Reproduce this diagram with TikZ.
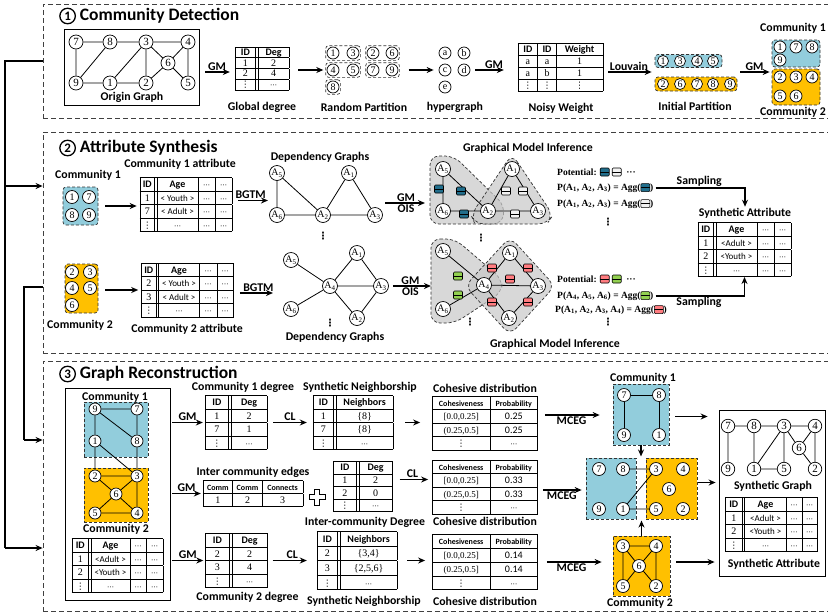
\documentclass[tikz,border=0pt]{standalone}
\usepackage{fontspec}
\setmainfont{Liberation Serif}
\setsansfont{Carlito}
\newfontfamily\dvfont{DejaVu Sans}
\usepackage{array}
\usetikzlibrary{arrows.meta,positioning,calc,fit}

\definecolor{cblue}{RGB}{146,205,220}
\definecolor{corange}{RGB}{255,192,0}
\definecolor{fblue}{RGB}{33,110,140}
\definecolor{fwhite}{RGB}{242,242,242}
\definecolor{fgreen}{RGB}{146,208,80}
\definecolor{fred}{RGB}{255,124,128}

\newcolumntype{C}[1]{w{c}{#1}}
\newcommand{\hd}[1]{\textsf{\textbf{#1}}}
\newcommand{\hs}[1]{\textsf{\textbf{\fontsize{8}{8}\selectfont #1}}}
\newcommand{\ag}[1]{\textsf{\fontsize{9}{9}\selectfont #1}}
\newcommand{\vd}{{\dvfont\fontsize{9}{9}\selectfont ⋮}}
\newcommand{\cd}{{\dvfont\fontsize{7}{7}\selectfont ⋯}}
\newcommand{\tabsize}[3]{\fontsize{#1}{#2}\selectfont\setlength{\tabcolsep}{1pt}\setlength{\arrayrulewidth}{0.6pt}\setlength{\extrarowheight}{#3pt}}
\newcommand{\fac}[1]{\tikz[baseline=1pt]{\draw[fill=#1, line width=0.6pt, rounded corners=1pt] (0pt,0pt) rectangle (9pt,8pt); \draw[line width=0.6pt] (0pt,4pt) -- (9pt,4pt);}}
\newcommand{\cnum}[1]{\tikz[baseline=(cn#1.base)]\node[circle, draw, line width=1.3pt, inner sep=0pt, minimum size=15.5pt, font=\sffamily\bfseries\fontsize{13}{13}\selectfont] (cn#1) {#1};}

\begin{document}
\begin{tikzpicture}[x=1pt, y=-1pt,
  secbox/.style={draw=black!75, dash pattern=on 5pt off 3pt, line width=0.8pt, inner sep=0pt},
  ttl/.style={font=\sffamily\bfseries\fontsize{17.5}{20}\selectfont, anchor=west, inner sep=0pt},
  lbl/.style={font=\sffamily\bfseries\fontsize{11.8}{13}\selectfont, inner sep=1pt},
  gnode/.style={circle, draw, fill=white, line width=0.7pt, inner sep=0pt, minimum size=14pt, font=\fontsize{11}{11}\selectfont},
  snode/.style={circle, draw, fill=white, line width=0.7pt, inner sep=0pt, minimum size=12pt, font=\fontsize{10}{10}\selectfont},
  anode/.style={circle, draw, fill=white, line width=0.7pt, inner sep=0pt, minimum size=15pt, font=\fontsize{10}{10}\selectfont},
  grp/.style={draw=black!80, dash pattern=on 3pt off 2pt, line width=0.7pt, rounded corners=3pt, inner sep=1pt},
  cbox/.style={draw=black!80, dash pattern=on 3pt off 2pt, line width=0.7pt, inner sep=0pt},
  tab/.style={inner sep=0pt, outer sep=0pt},
  gline/.style={line width=0.8pt},
  arr/.style={-{Stealth[length=7pt, width=6pt]}, line width=1.3pt},
  region/.style={draw=black!80, dash pattern=on 3pt off 2pt, line width=0.7pt, fill=black!22, fill opacity=0.7, rounded corners=9pt},
  pot/.style={font=\bfseries\fontsize{9.5}{11}\selectfont, anchor=west, inner sep=0pt},
  fac/.style={inner sep=0pt},
  dots/.style={inner sep=0pt, font=\dvfont\bfseries\fontsize{10}{10}\selectfont}
]
\useasboundingbox (0,0) rectangle (828,614);

\node[secbox, minimum width=800pt, minimum height=114pt] (sec1) at (443,61) {};
\node[secbox, minimum width=800pt, minimum height=221pt] (sec2) at (443,242.5) {};
\node[secbox, minimum width=800pt, minimum height=250pt] (sec3) at (443,486) {};
\node[ttl] (ttl1) at (59,16) {\cnum{1} Community Detection};
\node[ttl] (ttl2) at (59,148) {\cnum{2} Attribute Synthesis};
\node[ttl] (ttl3) at (59,374) {\cnum{3} Graph Reconstruction};

\coordinate (busa) at (5,61);
\coordinate (busb) at (5,186);
\coordinate (busc) at (5,548);
\coordinate (busd) at (24,287);
\coordinate (buse) at (24,440);
\draw[line width=1.3pt] (sec1.west) -- (busa) -- (busc);
\draw[arr] (busb) -- (busb -| sec2.west);
\draw[arr] (busc) -- (busc -| sec3.west);
\draw[line width=1.3pt] (busd -| sec2.west) -- (busd) -- (buse);
\draw[arr] (buse) -- (buse -| sec3.west);

% community detection
\node[draw, line width=0.8pt, minimum width=135pt, minimum height=76pt, inner sep=0pt] (ograph) at (131.5,67) {};
\node[gnode] (o7) at (76,42) {7};
\node[gnode] (o8) at (110,42) {8};
\node[gnode] (o3) at (146,42) {3};
\node[gnode] (o4) at (188,42) {4};
\node[gnode] (o6) at (168,63) {6};
\node[gnode] (o9) at (76,83) {9};
\node[gnode] (o1) at (110,83) {1};
\node[gnode] (o2) at (146,83) {2};
\node[gnode] (o5) at (188,83) {5};
\draw[gline] (o7) -- (o8) (o8) -- (o3) (o3) -- (o4) (o7) -- (o9) (o9) -- (o8) (o9) -- (o1) (o1) -- (o3) (o1) -- (o2) (o3) -- (o2) (o3) -- (o6) (o4) -- (o6) (o6) -- (o2) (o6) -- (o5) (o4) -- (o5);
\node[lbl] (ogl) at (132,97) {Origin Graph};

\node[tab] (gdeg) at (262,68.5) {\tabsize{10}{7}{3.2}\begin{tabular}{|C{18pt}||C{28pt}|}\hline
\hd{ID} & \hd{Deg}\\\hline
1 & 2\\\hline
2 & 4\\\hline
\vd & \cd\\\hline
\end{tabular}};
\node[lbl] (gdegl) at (262,107) {Global degree};
\draw[arr, shorten <=6pt, shorten >=5pt] ([yshift=-5pt]ograph.east) -- ([yshift=-5pt]ograph.east -| gdeg.west) node[midway, above, lbl] (gm1) {GM};

\node[snode] (r1) at (333,53) {1};
\node[snode] (r3) at (353,53) {3};
\node[snode] (r2) at (373,53) {2};
\node[snode] (r6) at (392,53) {6};
\node[snode] (r4) at (333,70) {4};
\node[snode] (r5) at (353,70) {5};
\node[snode] (r7) at (373,70) {7};
\node[snode] (r9) at (392,70) {9};
\node[snode] (r8) at (333,87) {8};
\node[grp, fit=(r1)(r3)] (g13) {};
\node[grp, fit=(r4)(r5)] (g45) {};
\node[grp, fit=(r2)(r6)] (g26) {};
\node[grp, fit=(r7)(r9)] (g79) {};
\node[grp, fit=(r8)] (g8) {};
\node[lbl] (rpl) at (364,107) {Random Partition};
\draw[arr, shorten <=9pt, shorten >=2pt] (gdeg.east |- g45) -- (g45.west);

\node[snode] (ha) at (445,53) {a};
\node[snode] (hb) at (464,53) {b};
\node[snode] (hc) at (445,70) {c};
\node[snode] (hd) at (464,70) {d};
\node[snode] (he) at (445,87) {e};
\node[lbl] (hgl) at (455,107) {hypergraph};
\draw[arr, shorten <=9pt, shorten >=5pt] (g79.east) -- (hc.west);

\node[tab] (nw) at (560.5,67) {\tabsize{10}{8}{3.5}\begin{tabular}{|C{17pt}|C{16pt}|C{44pt}|}\hline
\hd{ID} & \hd{ID} & \hd{Weight}\\\hline
a & a & 1\\\hline
a & b & 1\\\hline
\vd & \vd & \vd\\\hline
\end{tabular}};
\node[lbl] (nwl) at (561,108) {Noisy Weight};
\draw[arr, shorten <=5pt, shorten >=14pt] (hd.east) -- (hd.east -| nw.west) node[midway, above, lbl] (gm2) {GM};

\node[grp, fill=cblue, minimum width=67pt, minimum height=13pt] (ip1) at (688.5,61) {};
\node[grp, fill=corange, minimum width=82pt, minimum height=14pt] (ip2) at (696,84) {};
\node[snode, minimum size=11pt] (i1) at (663,61) {1};
\node[snode, minimum size=11pt] (i3) at (680,61) {3};
\node[snode, minimum size=11pt] (i4) at (697,61) {4};
\node[snode, minimum size=11pt] (i5) at (713,61) {5};
\node[snode, minimum size=11pt] (i2) at (663,84) {2};
\node[snode, minimum size=11pt] (i6) at (680,84) {6};
\node[snode, minimum size=11pt] (i7) at (697,84) {7};
\node[snode, minimum size=11pt] (i8) at (713,84) {8};
\node[snode, minimum size=11pt] (i9) at (730,84) {9};
\node[lbl] (ipl) at (695,106) {Initial Partition};
\draw[arr, shorten <=5pt, shorten >=3pt] ([yshift=-5pt]nw.east) -- ([yshift=-5pt]nw.east -| ip2.west) node[midway, above, lbl] (lvn) {Louvain};

\node[grp, fill=cblue, minimum width=48pt, minimum height=27pt] (cb1) at (796,53.5) {};
\node[grp, fill=corange, minimum width=48pt, minimum height=36pt] (cb2) at (796,87) {};
\node[snode] (k1) at (780,47) {1};
\node[snode] (k7) at (796,47) {7};
\node[snode] (k8) at (812,47) {8};
\node[snode] (k9) at (780,60) {9};
\node[snode] (k2) at (780,77) {2};
\node[snode] (k3) at (796,77) {3};
\node[snode] (k4) at (812,77) {4};
\node[snode] (k5) at (780,96) {5};
\node[snode] (k6) at (796,96) {6};
\node[lbl] (cb1l) at (793,28) {Community 1};
\node[lbl] (cb2l) at (793,112) {Community 2};
\draw[arr, shorten <=3pt, shorten >=2pt] ([yshift=-5pt]nw.east -| ip2.east) -- ([yshift=-5pt]nw.east -| cb1.west) node[midway, above, lbl] (gm3) {GM};

% attribute synthesis
\node[grp, fill=cblue, minimum width=35pt, minimum height=38pt] (c1b) at (80.5,206) {};
\node[snode, minimum size=13pt] (m1) at (72,197) {1};
\node[snode, minimum size=13pt] (m7) at (89,197) {7};
\node[snode, minimum size=13pt] (m8) at (72,215) {8};
\node[snode, minimum size=13pt] (m9) at (89,215) {9};
\node[lbl] (c1bl) at (88,175) {Community 1};

\node[tab] (attr1) at (186,204.5) {\tabsize{10}{10}{3}\begin{tabular}{|C{12pt}||C{38pt}|C{15pt}|C{14pt}|}\hline
\hd{ID} & \hd{Age} & \cd & \cd\\\hline
1 & \ag{< Youth >} & \cd & \cd\\\hline
7 & \ag{< Adult >} & \cd & \cd\\\hline
\vd & \cd & \cd & \cd\\\hline
\end{tabular}};
\node[lbl] (attr1l) at (180,164) {Community 1 attribute};
\draw[arr, shorten <=7pt, shorten >=3pt] (c1b) -- (c1b -| attr1.west);

\node[anode] (d1a5) at (277,173) {A\textsubscript{5}};
\node[anode] (d1a1) at (349,173) {A\textsubscript{1}};
\node[anode] (d1a6) at (277,215) {A\textsubscript{6}};
\node[anode] (d1a2) at (323,215) {A\textsubscript{2}};
\node[anode] (d1a3) at (375,215) {A\textsubscript{3}};
\draw[gline] (d1a5) -- (d1a6) (d1a5) -- (d1a2) (d1a6) -- (d1a2) (d1a2) -- (d1a1) (d1a1) -- (d1a3) (d1a2) -- (d1a3);
\node[fit=(d1a5)(d1a3), inner sep=0pt] (dg1) {};
\node[lbl] (dg1l) at (320,157) {Dependency Graphs};
\node[dots] (dv1) at (323,236) {⋮};
\draw[arr, shorten <=6pt, shorten >=1pt] ([yshift=4pt]attr1.east) -- ([yshift=4pt]attr1.east -| dg1.west) node[midway, above, lbl] (bg1) {BGTM};

\draw[region] (430,156) -- (454,156) -- (505,206) -- (502,224) -- (430,224) -- cycle;
\draw[region] (512,154) -- (553,215) -- (547,224) -- (475,224) -- (471,215) -- cycle;
\node[anode] (f1a5) at (443,169) {A\textsubscript{5}};
\node[anode] (f1a1) at (512,169) {A\textsubscript{1}};
\node[anode] (f1a6) at (443,211) {A\textsubscript{6}};
\node[anode] (f1a2) at (488,211) {A\textsubscript{2}};
\node[anode] (f1a3) at (538,211) {A\textsubscript{3}};
\draw[gline] (f1a5) -- (f1a6) (f1a5) -- (f1a2) (f1a6) -- (f1a2) (f1a2) -- (f1a1) (f1a1) -- (f1a3) (f1a2) -- (f1a3);
\node[fac] (fb1) at (439,189) {\fac{fblue}};
\node[fac] (fb2) at (461,191) {\fac{fblue}};
\node[fac] (fb3) at (464,214) {\fac{fblue}};
\node[fac] (fw1) at (506,191) {\fac{fwhite}};
\node[fac] (fw2) at (523,191) {\fac{fwhite}};
\node[fac] (fw3) at (515,214) {\fac{fwhite}};
\node[fit=(f1a5)(f1a3), inner sep=6pt] (fg1) {};
\node[lbl] (fg1l) at (528,148) {Graphical Model Inference};
\node[dots] (fv1) at (481,238) {⋮};
\draw[arr, shorten <=2pt, shorten >=4pt] ([yshift=-9pt]dg1.east) -- ([yshift=-9pt]dg1.east -| fg1.west) node[midway, above, lbl] (gm4) {GM} node[midway, below, lbl] (ois1) {OIS};

\node[pot] (pot0) at (557,172) {Potential: \fac{fblue} \fac{fwhite} \ ···};
\node[pot] (pot1) at (557,188) {P(A\textsubscript{1}, A\textsubscript{2}, A\textsubscript{3}) = Agg(\fac{fblue})};
\node[pot] (pot2) at (557,204) {P(A\textsubscript{1}, A\textsubscript{2}, A\textsubscript{3}) = Agg(\fac{fwhite})};
\node[dots] (pv1) at (608,222) {⋮};

\node[lbl] (satl) at (745,213) {Synthetic Attribute};
\node[tab] (sat) at (744.5,249.5) {\tabsize{10}{10}{3}\begin{tabular}{|C{13pt}||C{38pt}|C{15pt}|C{14pt}|}\hline
\hd{ID} & \hd{Age} & \cd & \cd\\\hline
1 & \ag{<Adult >} & \cd & \cd\\\hline
2 & \ag{<Youth >} & \cd & \cd\\\hline
\vd & \cd & \cd & \cd\\\hline
\end{tabular}};
\draw[arr, shorten <=2pt] (pot1.east) -| (satl.north) node[pos=0.25, above, lbl] (smp1) {Sampling};

\node[grp, fill=corange, minimum width=33pt, minimum height=49pt] (c2b) at (81.5,288.5) {};
\node[snode, minimum size=13pt] (n2) at (72,272) {2};
\node[snode, minimum size=13pt] (n3) at (90,272) {3};
\node[snode, minimum size=13pt] (n4) at (72,288) {4};
\node[snode, minimum size=13pt] (n5) at (90,288) {5};
\node[snode, minimum size=13pt] (n6) at (72,305) {6};
\node[lbl] (c2bl) at (80,325) {Community 2};

\node[tab] (attr2) at (187.5,290) {\tabsize{10}{10}{3}\begin{tabular}{|C{12pt}||C{38pt}|C{15pt}|C{14pt}|}\hline
\hd{ID} & \hd{Age} & \cd & \cd\\\hline
2 & \ag{< Youth >} & \cd & \cd\\\hline
3 & \ag{< Adult >} & \cd & \cd\\\hline
\vd & \cd & \cd & \cd\\\hline
\end{tabular}};
\node[lbl] (attr2l) at (187,329) {Community 2 attribute};
\draw[arr, shorten <=7pt, shorten >=3pt] (c2b.east |- attr2) -- (attr2.west);

\node[anode] (d2a5) at (291,260) {A\textsubscript{5}};
\node[anode] (d2a6) at (291,309) {A\textsubscript{6}};
\node[anode] (d2a4) at (330,286) {A\textsubscript{4}};
\node[anode] (d2a1) at (357,253) {A\textsubscript{1}};
\node[anode] (d2a3) at (381,286) {A\textsubscript{3}};
\node[anode] (d2a2) at (357,318) {A\textsubscript{2}};
\draw[gline] (d2a5) -- (d2a4) (d2a6) -- (d2a4) (d2a4) -- (d2a1) (d2a4) -- (d2a3) (d2a4) -- (d2a2) (d2a1) -- (d2a3) (d2a2) -- (d2a3);
\node[fit=(d2a5)(d2a6)(d2a1)(d2a2)(d2a3), inner sep=0pt] (dg2) {};
\node[dots] (dv2) at (330,323) {⋮};
\node[lbl] (dg2l) at (335,337) {Dependency Graphs};
\draw[arr, shorten <=6pt, shorten >=10pt] ([yshift=-3pt]attr2.east) -- ([yshift=-3pt]attr2.east -| dg2.west) node[midway, above, lbl] (bg2) {BGTM};

\draw[region] (431,239) -- (455,239) -- (502,279) -- (502,292) -- (455,323) -- (431,323) -- cycle;
\draw[region] (510,237) -- (555,286) -- (510,335) -- (465,286) -- cycle;
\node[anode] (f2a5) at (443,251) {A\textsubscript{5}};
\node[anode] (f2a6) at (443,309) {A\textsubscript{6}};
\node[anode] (f2a4) at (484,285) {A\textsubscript{4}};
\node[anode] (f2a1) at (510,253) {A\textsubscript{1}};
\node[anode] (f2a3) at (538,286) {A\textsubscript{3}};
\node[anode] (f2a2) at (509,318) {A\textsubscript{2}};
\draw[gline] (f2a5) -- (f2a4) (f2a6) -- (f2a4) (f2a4) -- (f2a1) (f2a1) -- (f2a3) (f2a3) -- (f2a2) (f2a2) -- (f2a4) (f2a4) -- (f2a3);
\node[fac] (fg1n) at (458,276) {\fac{fgreen}};
\node[fac] (fg2n) at (458,295) {\fac{fgreen}};
\node[fac] (fr1) at (492,268) {\fac{fred}};
\node[fac] (fr2) at (528,268) {\fac{fred}};
\node[fac] (fr3) at (510,279) {\fac{fred}};
\node[fac] (fr4) at (492,302) {\fac{fred}};
\node[fac] (fr5) at (528,302) {\fac{fred}};
\node[fit=(f2a5)(f2a6)(f2a1)(f2a2)(f2a3), inner sep=3pt] (fg2) {};
\node[dots] (fv2) at (470,322) {⋮};
\node[lbl] (fg2l) at (555,344) {Graphical Model Inference};
\draw[arr, shorten <=4pt, shorten >=1pt] (d2a3.east) -- (d2a3.east -| fg2.west) node[midway, above, lbl] (gm5) {GM} node[midway, below, lbl] (ois2) {OIS};

\node[pot] (pot3) at (557,279) {Potential: \fac{fred} \fac{fgreen} \ ···};
\node[pot] (pot4) at (557,296) {P(A\textsubscript{4}, A\textsubscript{5}, A\textsubscript{6}) = Agg(\fac{fgreen})};
\node[pot] (pot5) at (555,310) {P(A\textsubscript{1}, A\textsubscript{2}, A\textsubscript{3}, A\textsubscript{4}) = Agg(\fac{fred})};
\node[dots] (pv2) at (608,322) {⋮};
\draw[arr, shorten <=2pt] (pot4.east) -| (sat.south) node[pos=0.25, below, lbl] (smp2) {Sampling};

% graph reconstruction
\node[draw, line width=0.8pt, minimum width=105pt, minimum height=212pt, inner sep=0pt] (bigbox) at (117.5,494) {};
\node[cbox, fill=cblue, minimum width=64pt, minimum height=55pt] (lb1) at (116,429.5) {};
\node[cbox, fill=corange, minimum width=64pt, minimum height=54pt] (lb2) at (116,495) {};
\node[snode] (L9) at (95,409) {9};
\node[snode] (L7) at (137,409) {7};
\node[snode] (L1) at (95,441) {1};
\node[snode] (L8) at (137,441) {8};
\node[snode] (L2) at (95,476) {2};
\node[snode] (L3) at (137,476) {3};
\node[snode] (L6) at (116,494) {6};
\node[snode] (L5) at (95,513) {5};
\node[snode] (L4) at (137,513) {4};
\draw[gline] (L9) -- (L7) (L9) -- (L8) (L7) -- (L8) (L9) -- (L1) (L1) -- (L2) (L1) -- (L3) (L8) -- (L3) (L2) -- (L3) (L2) -- (L6) (L3) -- (L6) (L6) -- (L5) (L6) -- (L4) (L5) -- (L4) (L3) -- (L4);
\node[lbl] (lb1l) at (115,397) {Community 1};
\node[lbl] (lb2l) at (116,529) {Community 2};
\node[tab] (battr) at (117.5,565.5) {\tabsize{10}{10}{3}\begin{tabular}{|C{14pt}||C{36pt}|C{14pt}|C{14pt}|}\hline
\hd{ID} & \hd{Age} & \cd & \cd\\\hline
1 & \ag{<Adult >} & \cd & \cd\\\hline
2 & \ag{<Youth >} & \cd & \cd\\\hline
\vd & \cd & \cd & \cd\\\hline
\end{tabular}};

\node[tab] (cdeg1) at (236,422.5) {\tabsize{10}{10}{3}\begin{tabular}{|C{21pt}||C{33pt}|}\hline
\hd{ID} & \hd{Deg}\\\hline
1 & 2\\\hline
7 & 1\\\hline
\vd & \cd\\\hline
\end{tabular}};
\node[lbl] (cdeg1l) at (243,387) {Community 1 degree};
\node[tab] (sn1) at (353,422.5) {\tabsize{10}{10}{3}\begin{tabular}{|C{18pt}||C{54pt}|}\hline
\hd{ID} & \hd{Neighbors}\\\hline
1 & \{8\}\\\hline
7 & \{8\}\\\hline
\vd & \cd\\\hline
\end{tabular}};
\node[lbl] (sn1l) at (360,387) {Synthetic Neighborship};
\node[tab] (coh1) at (485,423) {\tabsize{10}{9.8}{3}\begin{tabular}{|C{55pt}|C{45pt}|}\hline
\hs{Cohesiveness} & \hs{Probability}\\\hline
{\fontsize{9}{9}\selectfont [0.0,0.25]} & \textsf{0.25}\\\hline
{\fontsize{9}{9}\selectfont (0.25,0.5]} & \textsf{0.25}\\\hline
\vd & \cd\\\hline
\end{tabular}};
\node[lbl] (coh1l) at (485,388) {Cohesive distribution};

\node[tab] (ietab) at (253,493.5) {\tabsize{10}{9.5}{3.1}\begin{tabular}{|C{27pt}|C{27pt}|C{38pt}|}\hline
\hs{Comm} & \hs{Comm} & \hs{Connects}\\\hline
1 & 2 & 3\\\hline
\end{tabular}};
\node[lbl] (ietabl) at (253,472) {Inter community edges};
\draw[line width=0.8pt, fill=white] (314.5,489) -- (319.5,489) -- (319.5,494.5) -- (325,494.5) -- (325,499.5) -- (319.5,499.5) -- (319.5,505) -- (314.5,505) -- (314.5,499.5) -- (309,499.5) -- (309,494.5) -- (314.5,494.5) -- cycle;
\node[tab] (ideg) at (363,486.5) {\tabsize{10}{9}{3}\begin{tabular}{|C{20pt}||C{31pt}|}\hline
\hd{ID} & \hd{Deg}\\\hline
1 & 2\\\hline
2 & 0\\\hline
\vd & \cd\\\hline
\end{tabular}};
\node[lbl] (idegl) at (365,522) {Inter-community Degree};
\node[tab] (coh2) at (485,487) {\tabsize{10}{9.8}{3}\begin{tabular}{|C{55pt}|C{45pt}|}\hline
\hs{Cohesiveness} & \hs{Probability}\\\hline
{\fontsize{9}{9}\selectfont [0.0,0.25]} & \textsf{0.33}\\\hline
{\fontsize{9}{9}\selectfont (0.25,0.5]} & \textsf{0.33}\\\hline
\vd & \cd\\\hline
\end{tabular}};
\node[lbl] (coh2l) at (485,521) {Cohesive distribution};

\node[tab] (cdeg2) at (236.5,560.5) {\tabsize{10}{10}{3}\begin{tabular}{|C{21pt}||C{33pt}|}\hline
\hd{ID} & \hd{Deg}\\\hline
2 & 2\\\hline
3 & 4\\\hline
\vd & \cd\\\hline
\end{tabular}};
\node[lbl] (cdeg2l) at (247.5,597) {Community 2 degree};
\node[tab] (sn2) at (357,560.5) {\tabsize{10}{11}{3}\begin{tabular}{|C{18pt}||C{54pt}|}\hline
\hd{ID} & \hd{Neighbors}\\\hline
2 & \{3,4\}\\\hline
3 & \{2,5,6\}\\\hline
\vd & \cd\\\hline
\end{tabular}};
\node[lbl] (sn2l) at (364,601) {Synthetic Neighborship};
\node[tab] (coh3) at (485,562) {\tabsize{10}{10.2}{3}\begin{tabular}{|C{55pt}|C{45pt}|}\hline
\hs{Cohesiveness} & \hs{Probability}\\\hline
{\fontsize{9}{9}\selectfont [0.0,0.25]} & \textsf{0.14}\\\hline
{\fontsize{9}{9}\selectfont (0.25,0.5]} & \textsf{0.14}\\\hline
\vd & \cd\\\hline
\end{tabular}};
\node[lbl] (coh3l) at (485,601) {Cohesive distribution};

\draw[arr, shorten <=2pt, shorten >=2pt] (bigbox.east |- cdeg1) -- (cdeg1.west) node[midway, above, lbl] (gm6) {GM};
\draw[arr, shorten <=2pt, shorten >=2pt] (bigbox.east |- ietab) -- (ietab.west) node[midway, above, lbl] (gm7) {GM};
\draw[arr, shorten <=2pt, shorten >=2pt] (bigbox.east |- cdeg2) -- (cdeg2.west) node[midway, above, lbl] (gm8) {GM};
\draw[arr, shorten <=6pt, shorten >=6pt] (cdeg1.east) -- (cdeg1.east -| sn1.west) node[midway, above, lbl] (cl1) {CL};
\draw[arr, shorten <=12pt, shorten >=12pt] (sn1.east) -- (sn1.east -| coh1.west);
\draw[arr, shorten <=7pt, shorten >=4pt] ([yshift=7pt]ideg.east) -- ([yshift=7pt]ideg.east -| coh2.west) node[midway, above, lbl] (cl2) {CL};
\draw[arr, shorten <=5pt, shorten >=10pt] (cdeg2.east) -- (cdeg2.east -| sn2.west) node[midway, above, lbl] (cl3) {CL};
\draw[arr, shorten <=10pt, shorten >=7pt] (sn2.east) -- (sn2.east -| coh3.west);

\node[cbox, fill=cblue, minimum width=56pt, minimum height=61pt] (rc1) at (641,414.5) {};
\node[snode, minimum size=13pt] (R7) at (624,395) {7};
\node[snode, minimum size=13pt] (R8) at (659,395) {8};
\node[snode, minimum size=13pt] (R9) at (624,435) {9};
\node[snode, minimum size=13pt] (R1) at (659,435) {1};
\draw[gline] (R7) -- (R8) (R7) -- (R9) (R8) -- (R1);
\node[lbl] (rc1l) at (643,378) {Community 1};

\node[cbox, fill=cblue, minimum width=50pt, minimum height=61pt] (mb) at (611,488.5) {};
\node[cbox, fill=corange, minimum width=51pt, minimum height=61pt] (mo) at (671.5,488.5) {};
\node[snode, minimum size=13pt] (M7) at (599,469) {7};
\node[snode, minimum size=13pt] (M8) at (623,469) {8};
\node[snode, minimum size=13pt] (M9) at (599,509) {9};
\node[snode, minimum size=13pt] (M1) at (623,509) {1};
\node[snode, minimum size=13pt] (M3) at (656,469) {3};
\node[snode, minimum size=13pt] (M4) at (683,469) {4};
\node[snode, minimum size=13pt] (M6) at (669,489) {6};
\node[snode, minimum size=13pt] (M5) at (656,509) {5};
\node[snode, minimum size=13pt] (M2) at (683,509) {2};
\draw[gline] (M8) -- (M3) (M1) -- (M3) (M1) -- (M5);
\node[fit=(mb)(mo), inner sep=0pt] (mg) {};

\node[cbox, fill=corange, minimum width=57pt, minimum height=60pt] (rc2) at (641.5,566) {};
\node[snode, minimum size=13pt] (Q3) at (623,546) {3};
\node[snode, minimum size=13pt] (Q4) at (656,546) {4};
\node[snode, minimum size=13pt] (Q6) at (639,566) {6};
\node[snode, minimum size=13pt] (Q5) at (623,586) {5};
\node[snode, minimum size=13pt] (Q2) at (656,586) {2};
\draw[gline] (Q3) -- (Q4) (Q3) -- (Q6) (Q4) -- (Q6) (Q6) -- (Q5) (Q6) -- (Q2) (Q3) -- (Q5) (Q4) -- (Q2);
\node[lbl] (rc2l) at (640,603) {Community 2};

\draw[arr, shorten <=7pt, shorten >=13pt] ([yshift=8pt]coh1.east) -- ([yshift=8pt]coh1.east -| rc1.west) node[pos=0.45, below, lbl] (mc1) {MCEG};
\draw[arr, shorten <=5pt, shorten >=4pt] ([yshift=-3pt]coh2.east) -- ([yshift=-3pt]coh2.east -| mb.west) node[midway, below, lbl] (mc2) {MCEG};
\draw[arr, shorten <=9pt, shorten >=11pt] (coh3.east) -- (coh3.east -| rc2.west) node[pos=0.45, below, lbl] (mc3) {MCEG};
\draw[arr, shorten >=1pt] (rc1.south) -- (rc1.south |- mg.north);
\draw[arr, shorten >=1pt] (rc2.north) -- (rc2.north |- mg.south);

\node[draw, line width=0.8pt, minimum width=106pt, minimum height=166pt, inner sep=0pt] (syn) at (772,493) {};
\node[gnode, minimum size=13.5pt] (S7) at (728,426) {7};
\node[gnode, minimum size=13.5pt] (S8) at (754,426) {8};
\node[gnode, minimum size=13.5pt] (S3) at (784,426) {3};
\node[gnode, minimum size=13.5pt] (S4) at (815,426) {4};
\node[gnode, minimum size=13.5pt] (S6) at (799,448) {6};
\node[gnode, minimum size=13.5pt] (S9) at (728,469) {9};
\node[gnode, minimum size=13.5pt] (S1) at (754,469) {1};
\node[gnode, minimum size=13.5pt] (S5) at (784,469) {5};
\node[gnode, minimum size=13.5pt] (S2) at (815,469) {2};
\draw[gline] (S7) -- (S8) (S8) -- (S3) (S3) -- (S4) (S7) -- (S9) (S8) -- (S1) (S1) -- (S3) (S3) -- (S5) (S1) -- (S5) (S3) -- (S6) (S4) -- (S6) (S6) -- (S2) (S4) -- (S2);
\node[lbl] (synl) at (773,486) {Synthetic Graph};
\node[tab] (satt3) at (771.5,524.5) {\tabsize{10}{10}{3}\begin{tabular}{|C{14pt}||C{39pt}|C{13pt}|C{13pt}|}\hline
\hd{ID} & \hd{Age} & \cd & \cd\\\hline
1 & \ag{<Adult >} & \cd & \cd\\\hline
2 & \ag{<Youth >} & \cd & \cd\\\hline
\vd & \cd & \cd & \cd\\\hline
\end{tabular}};
\node[lbl] (satt3l) at (774,564) {Synthetic Attribute};

\draw[arr, shorten <=6pt, shorten >=11pt] ([yshift=-2pt]rc1.east) -- ([yshift=-2pt]rc1.east -| syn.west);
\draw[arr, shorten <=1pt, shorten >=3pt] ([yshift=6pt]mo.east) -- ([yshift=6pt]mo.east -| syn.west);
\draw[arr, shorten <=6pt, shorten >=4pt] ([yshift=4pt]rc2.east) -- ([yshift=4pt]rc2.east -| syn.west);
\end{tikzpicture}
\end{document}
